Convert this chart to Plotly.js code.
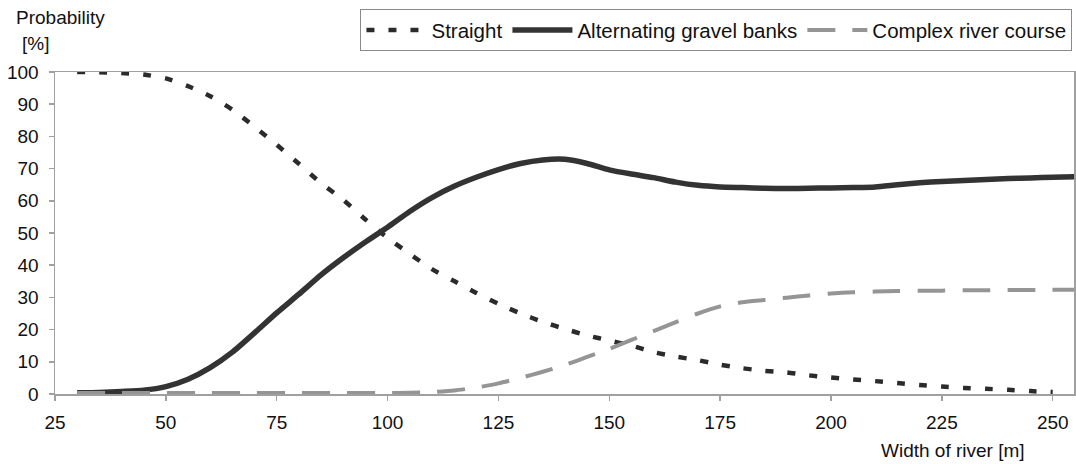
<!DOCTYPE html>
<html>
<head>
<meta charset="utf-8">
<script src="https://cdn.plot.ly/plotly-3.0.1.min.js"></script>
<style>
  html, body { margin: 0; padding: 0; background: #fff; }
  #chart { width: 1076px; height: 464px; }
</style>
</head>
<body>
<div id="chart"></div>
<script>
// Width of river [m]
const widths = [30, 35, 40, 45, 50, 55, 60, 65, 70, 75, 80, 85, 90, 95, 100, 105, 110, 115, 120, 125,
                130, 135, 140, 145, 150, 155, 160, 165, 170, 175, 180, 185, 190, 195, 200, 205, 210, 215,
                220, 225, 230, 235, 240, 245, 250];
const widthsLong = widths.concat([255]);

// Probability [%]
const straight = [100, 99.9, 99.7, 99.2, 98, 95.6, 92.5, 88.3, 83, 77.4, 71.5, 65.5, 60.3, 54.2, 48.5,
                  43.5, 38.8, 35.1, 31.4, 28, 25, 22.4, 20.2, 18.2, 16.6, 15, 13, 11.6, 10.5, 9.1,
                  8, 7.2, 6.7, 5.8, 5.1, 4.5, 4, 3.4, 2.8, 2.3, 1.9, 1.6, 1.3, 0.9, 0.6];
const alternating = [0.4, 0.5, 0.8, 1.2, 2.3, 4.6, 8.2, 13, 19, 25.2, 31, 37, 42.3, 47.2, 51.8,
                     56.7, 61, 64.5, 67.3, 69.7, 71.6, 72.7, 72.9, 71.6, 69.6, 68.3, 67.2, 65.8, 64.8,
                     64.3, 64.1, 63.9, 63.8, 63.9, 64, 64.1, 64.3, 65, 65.6, 66, 66.3, 66.6, 66.9, 67.1,
                     67.3, 67.5];
const complex = [0.3, 0.3, 0.3, 0.3, 0.3, 0.3, 0.3, 0.3, 0.3, 0.3, 0.3, 0.3, 0.3, 0.3, 0.3,
                 0.4, 0.6, 1.1, 2, 3.3, 5, 6.9, 9, 11.5, 14, 16.8, 19.5, 22.3, 25, 27.2, 28.5, 29.2,
                 29.9, 30.6, 31.2, 31.6, 31.8, 32, 32.1, 32.1, 32.2, 32.2, 32.3, 32.3, 32.4, 32.4];

const seriesNames = ["Straight", "Alternating gravel banks", "Complex river course"];
const xTicks = [25, 50, 75, 100, 125, 150, 175, 200, 225, 250];
const yTicks = [0, 10, 20, 30, 40, 50, 60, 70, 80, 90, 100];

const FONT = "Liberation Sans, Arial, sans-serif";

const traces = [
  {
    x: widths, y: straight, name: seriesNames[0], type: "scatter", mode: "lines",
    line: { color: "#2b2b2b", width: 4.5, dash: "8px,14px", shape: "spline", smoothing: 0.6 },
    cliponaxis: false
  },
  {
    x: widthsLong, y: alternating, name: seriesNames[1], type: "scatter", mode: "lines",
    line: { color: "#333333", width: 5.5, shape: "spline", smoothing: 0.6 },
    cliponaxis: false
  },
  {
    x: widthsLong, y: complex, name: seriesNames[2], type: "scatter", mode: "lines",
    line: { color: "#959595", width: 4, dash: "28px,17px", shape: "spline", smoothing: 0.6 },
    cliponaxis: false
  }
];

const axisCommon = {
  showline: true, linecolor: "#a0a0a0", linewidth: 1.5, mirror: true,
  ticks: "outside", ticklen: 5, tickwidth: 1.5, tickcolor: "#a0a0a0",
  showgrid: false, zeroline: false,
  tickfont: { family: FONT, size: 19, color: "#111" }
};

const layout = {
  width: 1076, height: 464,
  margin: { l: 55, r: 2, t: 72, b: 70 },
  paper_bgcolor: "#ffffff", plot_bgcolor: "#ffffff",
  font: { family: FONT, size: 19, color: "#111" },
  xaxis: Object.assign({}, axisCommon, {
    range: [25, 254.8], tickvals: xTicks, ticktext: xTicks.map(String),
    ticklabelstandoff: 6
  }),
  yaxis: Object.assign({}, axisCommon, {
    range: [0, 100], tickvals: yTicks, ticktext: yTicks.map(String),
    ticklabelstandoff: 6
  }),
  showlegend: true,
  legend: {
    orientation: "h", x: 0.9985, xanchor: "right", y: 1.195, yanchor: "top",
    bordercolor: "#8a8a8a", borderwidth: 1, bgcolor: "#fff",
    font: { family: FONT, size: 20.5, color: "#111" },
    itemwidth: 60, tracegroupgap: 0
  },
  annotations: [
    { text: "Probability", xref: "paper", yref: "paper", x: -0.04, y: 1.17, xanchor: "left", yanchor: "middle",
      showarrow: false, font: { family: FONT, size: 19, color: "#111" } },
    { text: "[%]", xref: "paper", yref: "paper", x: -0.034, y: 1.09, xanchor: "left", yanchor: "middle",
      showarrow: false, font: { family: FONT, size: 19, color: "#111" } },
    { text: "Width of river [m]", xref: "paper", yref: "paper", x: 0.954, y: -0.175, xanchor: "right", yanchor: "middle",
      showarrow: false, font: { family: FONT, size: 19, color: "#111" } }
  ]
};

Plotly.newPlot("chart", traces, layout, { displayModeBar: false, staticPlot: true });
</script>
</body>
</html>
